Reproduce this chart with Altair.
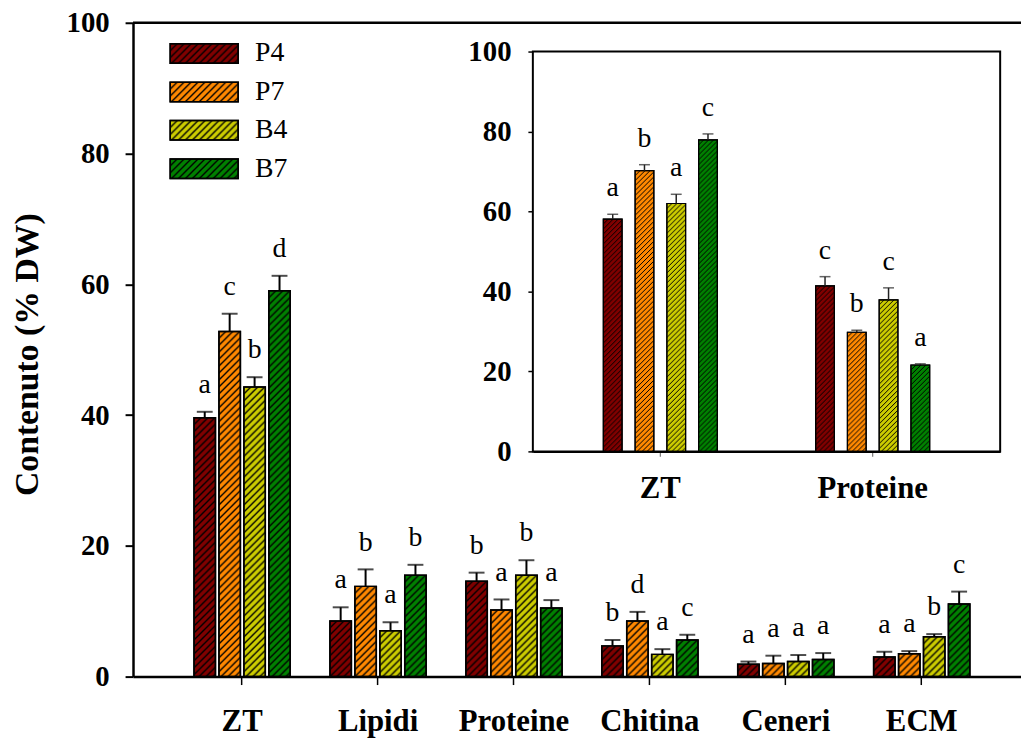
import altair as alt
import pandas as pd
import base64

# ---------------- data ----------------
groups = ["ZT", "Lipidi", "Proteine", "Chitina", "Ceneri", "ECM"]
series = ["P4", "P7", "B4", "B7"]
colors = ["#800000", "#ff8800", "#cccc00", "#008000"]

p4_val = [39.6, 8.5, 14.6, 4.7, 1.9, 3.0]
p7_val = [52.8, 13.8, 10.2, 8.5, 2.0, 3.5]
b4_val = [44.3, 7.0, 15.5, 3.4, 2.3, 6.1]
b7_val = [59.0, 15.5, 10.5, 5.6, 2.6, 11.1]

p4_err = [0.9, 2.1, 1.3, 0.9, 0.4, 0.8]
p7_err = [2.7, 2.6, 1.6, 1.4, 1.2, 0.4]
b4_err = [1.5, 1.3, 2.3, 0.8, 1.0, 0.4]
b7_err = [2.3, 1.6, 1.2, 0.8, 1.0, 1.9]

p4_let = ["a", "a", "b", "b", "a", "a"]
p7_let = ["c", "b", "a", "d", "a", "a"]
b4_let = ["b", "a", "b", "a", "a", "b"]
b7_let = ["d", "b", "a", "c", "a", "c"]

inset_groups = ["ZT", "Proteine"]
ins_p4_val = [58.1, 41.4]
ins_p7_val = [70.2, 29.8]
ins_b4_val = [62.0, 37.9]
ins_b7_val = [77.9, 21.6]
ins_p4_err = [1.2, 2.3]
ins_p7_err = [1.5, 0.5]
ins_b4_err = [2.3, 3.0]
ins_b7_err = [1.5, 0.3]
ins_p4_let = ["a", "c"]
ins_p7_let = ["b", "b"]
ins_b4_let = ["a", "c"]
ins_b7_let = ["c", "a"]

y_ticks = [0, 20, 40, 60, 80, 100]
y_title = "Contenuto (% DW)"


def hatch_uri(p, w):
    svg = (
        '<svg xmlns="http://www.w3.org/2000/svg" width="100%" height="100%">'
        f'<defs><pattern id="h" width="{p}" height="{p}" patternUnits="userSpaceOnUse">'
        f'<path d="M-1,1L1,-1M0,{p}L{p},0M{p-1},{p+1}L{p+1},{p-1}" '
        f'stroke="black" stroke-width="{w}"/></pattern></defs>'
        '<rect width="100%" height="100%" fill="url(#h)"/></svg>'
    )
    return "data:image/svg+xml;base64," + base64.b64encode(svg.encode()).decode()


def build(gs, vals, errs, lets, hatch):
    rows = []
    for s, v, e, l in zip(series, vals, errs, lets):
        for g, vv, ee, ll in zip(gs, v, e, l):
            rows.append(dict(group=g, series=s, value=vv, top=vv + ee,
                             letter=ll, zero=0, hatch=hatch))
    return pd.DataFrame(rows)


main_df = build(groups, [p4_val, p7_val, b4_val, b7_val],
                [p4_err, p7_err, b4_err, b7_err],
                [p4_let, p7_let, b4_let, b7_let], hatch_uri(7, 1.4))
inset_df = build(inset_groups, [ins_p4_val, ins_p7_val, ins_b4_val, ins_b7_val],
                 [ins_p4_err, ins_p7_err, ins_b4_err, ins_b7_err],
                 [ins_p4_let, ins_p7_let, ins_b4_let, ins_b7_let], hatch_uri(5, 1.0))
legend_df = pd.DataFrame({"series": series, "hatch": [hatch_uri(7, 1.4)] * 4})
frame_df = pd.DataFrame({"k": [0]})

FONT = "Liberation Serif"
W, H = 895, 659

color_enc = alt.Color("series:N", sort=series,
                      scale=alt.Scale(domain=series, range=colors), legend=None)

# ---------------- main chart ----------------
mx = alt.X(
    "group:N", sort=groups, title=None,
    scale=alt.Scale(paddingInner=0.292, paddingOuter=0.4125, align=0.544),
    axis=alt.Axis(labelFont=FONT, labelFontWeight="bold", labelFontSize=31,
                  labelColor="black", labelAngle=0, labelBaseline="alphabetic",
                  labelPadding=46, tickSize=8, tickWidth=1.5, tickColor="black",
                  domainColor="black", domainWidth=2.5, grid=False),
)
mxo = alt.XOffset("series:N", sort=series,
                  scale=alt.Scale(paddingInner=0.14, paddingOuter=0))
my_axis = alt.Axis(values=y_ticks, labelFont=FONT, labelFontWeight="bold",
                   labelFontSize=29, labelColor="black", labelPadding=16,
                   tickSize=8, tickWidth=2, tickColor="black",
                   domainColor="black", domainWidth=2.5, grid=False,
                   title=y_title, titleFont=FONT, titleFontSize=34,
                   titleFontWeight="bold", titleColor="black",
                   titleAngle=270, titleAlign="center", titleBaseline="alphabetic",
                   titleX=-96, titleY=334)
my_scale = alt.Scale(domain=[0, 100], nice=False)


def my(field):
    return alt.Y(field, stack=None, scale=my_scale, axis=my_axis)


mbase = alt.Chart(main_df)
m_bars = mbase.mark_bar(stroke="black", strokeWidth=1.5).encode(
    x=mx, xOffset=mxo, y=my("value:Q"), color=color_enc)
m_hatch = mbase.mark_image(aspect=False).encode(
    x=mx, xOffset=mxo, y=my("value:Q"), y2="zero:Q", url="hatch:N")
m_outline = mbase.mark_bar(filled=False, stroke="black", strokeWidth=1.5).encode(
    x=mx, xOffset=mxo, y=my("value:Q"))
m_err = mbase.mark_rule(color="black", strokeWidth=2).encode(
    x=mx, xOffset=mxo, y=my("value:Q"), y2="top:Q")
m_cap = mbase.mark_tick(color="black", thickness=2, size=16).encode(
    x=mx, xOffset=mxo, y=my("top:Q"))
m_txt = mbase.mark_text(font=FONT, fontSize=28, baseline="alphabetic", dy=-19,
                        color="black").encode(
    x=mx, xOffset=mxo, y=my("top:Q"), text="letter:N")
m_top = alt.Chart(frame_df).mark_rule(color="black", strokeWidth=2.5).encode(
    y=alt.datum(100, scale=my_scale, axis=my_axis))

main_layer = alt.layer(m_bars, m_hatch, m_outline, m_err, m_cap, m_txt, m_top)

# ---------------- inset chart ----------------
ix = alt.X(
    "group:N", sort=inset_groups, title=None,
    scale=alt.Scale(range=[403, 874], paddingInner=0.463, paddingOuter=0.332),
    axis=alt.Axis(orient="bottom", offset=-227, labelFont=FONT,
                  labelFontWeight="bold", labelFontSize=31, labelColor="black",
                  labelAngle=0, labelBaseline="alphabetic", labelPadding=41,
                  tickSize=5, tickWidth=1.2, tickColor="#777777",
                  domainColor="black", domainWidth=2, grid=False),
)
ixo = alt.XOffset("series:N", sort=series,
                  scale=alt.Scale(paddingInner=0.41, paddingOuter=0))
iy_scale = alt.Scale(domain=[0, 100], range=[432, 29], nice=False)
iy_axis = alt.Axis(orient="left", offset=-403, values=y_ticks, labelFont=FONT,
                   labelFontWeight="bold", labelFontSize=29, labelColor="black",
                   labelPadding=17, tickSize=5, tickWidth=1.5, tickColor="black",
                   domainColor="black", domainWidth=2, grid=False, title=None)


def iy(field):
    return alt.Y(field, stack=None, scale=iy_scale, axis=iy_axis)


ibase = alt.Chart(inset_df)
i_frame = alt.Chart(frame_df).mark_rect(fill="white", stroke="black",
                                        strokeWidth=2).encode(
    x=alt.value(403), x2=alt.value(874), y=alt.value(29), y2=alt.value(432))
i_bars = ibase.mark_bar(stroke="black", strokeWidth=1.2).encode(
    x=ix, xOffset=ixo, y=iy("value:Q"), color=color_enc)
i_hatch = ibase.mark_image(aspect=False).encode(
    x=ix, xOffset=ixo, y=iy("value:Q"), y2="zero:Q", url="hatch:N")
i_outline = ibase.mark_bar(filled=False, stroke="black", strokeWidth=1.2).encode(
    x=ix, xOffset=ixo, y=iy("value:Q"))
i_err = ibase.mark_rule(color="#222222", strokeWidth=1.5).encode(
    x=ix, xOffset=ixo, y=iy("value:Q"), y2="top:Q")
i_cap = ibase.mark_tick(color="#222222", thickness=1.5, size=11).encode(
    x=ix, xOffset=ixo, y=iy("top:Q"))
i_txt = ibase.mark_text(font=FONT, fontSize=28, baseline="alphabetic", dy=-18,
                        color="black").encode(
    x=ix, xOffset=ixo, y=iy("top:Q"), text="letter:N")

inset_layer = alt.layer(i_frame, i_bars, i_hatch, i_outline, i_err, i_cap, i_txt)

# ---------------- legend (hatched swatches) ----------------
ly = alt.Y("series:N", sort=series, axis=None,
           scale=alt.Scale(type="band", domain=series, range=[21.2, 156.9],
                           paddingInner=0.494, paddingOuter=0))
lbase = alt.Chart(legend_df)
l_sw = lbase.mark_bar(stroke="black", strokeWidth=1.5).encode(
    x=alt.value(37.5), x2=alt.value(106), y=ly, color=color_enc)
l_hatch = lbase.mark_image(aspect=False).encode(
    x=alt.value(37.5), x2=alt.value(106), y=ly, url="hatch:N")
l_out = lbase.mark_bar(filled=False, stroke="black", strokeWidth=1.5).encode(
    x=alt.value(37.5), x2=alt.value(106), y=ly)
l_txt = lbase.mark_text(font=FONT, fontSize=28, align="left", baseline="middle",
                        color="black").encode(
    x=alt.value(123), y=ly, text="series:N")
legend_layer = alt.layer(l_sw, l_hatch, l_out, l_txt)

chart = alt.layer(main_layer, inset_layer, legend_layer).resolve_scale(
    x="independent", y="independent", xOffset="independent"
).properties(
    width=W, height=H,
    autosize=alt.AutoSizeParams(type="none"),
    padding={"left": 126, "top": 12, "right": 0, "bottom": 61},
).configure_view(stroke=None).configure(background="white")

chart.save("out.html", embed_options={"renderer": "svg", "actions": False})
